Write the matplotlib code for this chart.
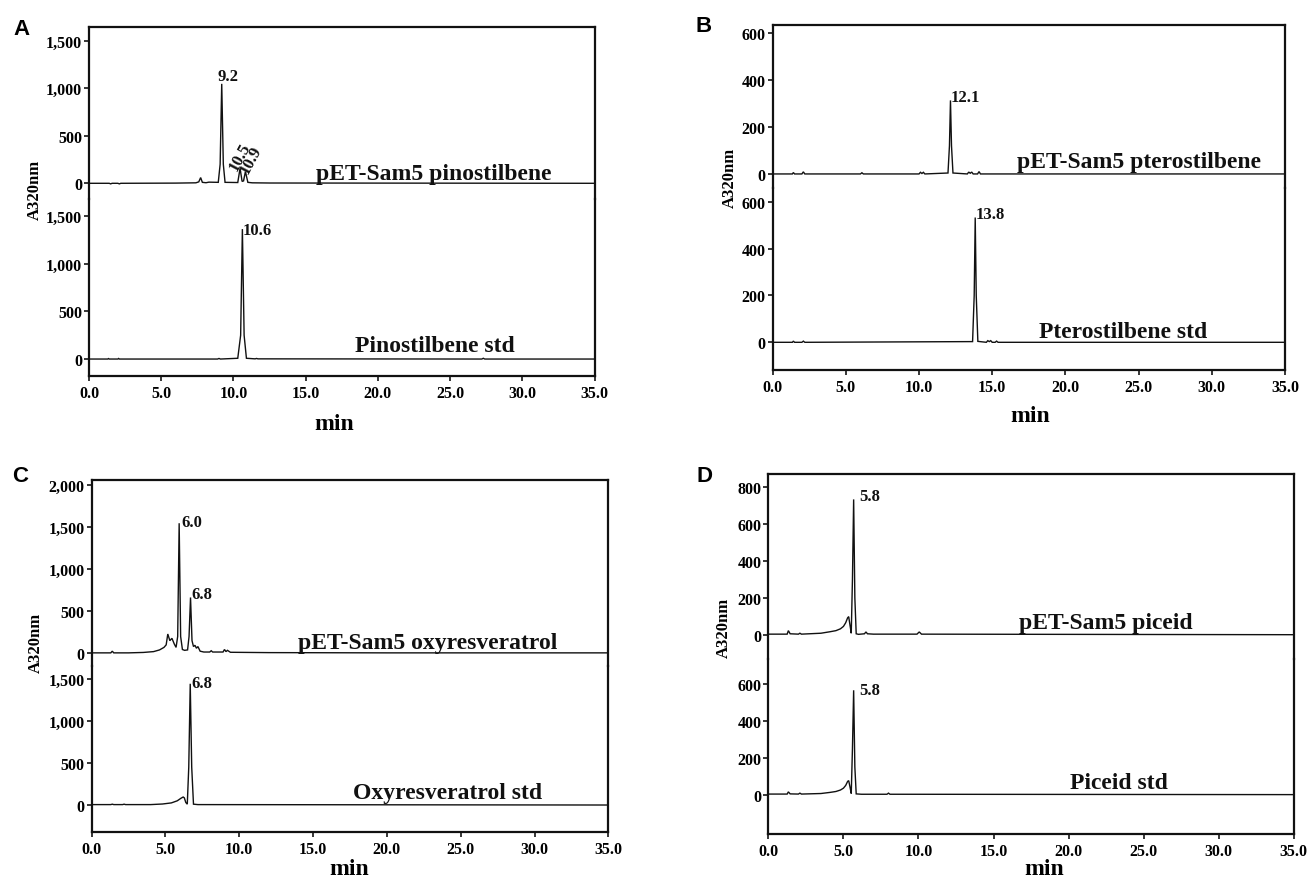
import matplotlib
matplotlib.use("Agg")
import matplotlib.pyplot as plt
from matplotlib.ticker import FixedLocator, FuncFormatter

plt.rcParams['font.family'] = ['Liberation Serif', 'DejaVu Serif']
plt.rcParams['font.weight'] = 'bold'

# ---------------- data (retention time in min, absorbance A320nm) ----------------
A_top_time = [0.0, 1.4, 1.5, 1.6, 2.0, 2.1, 2.2, 6.0, 7.4, 7.6, 7.73, 7.85, 8.1, 8.3, 8.95,
              9.08, 9.19, 9.3, 9.42, 10.3, 10.46, 10.6, 10.7, 10.83, 11.0, 11.3, 12.5, 35.0]
A_top_abs = [0, 0, -6, 0, 0, -6, 0, 2, 5, 15, 60, 10, 6, 12, 10,
             200, 1045, 200, 10, 8, 158, 20, 25, 123, 10, 5, 3, 0]
A_bot_time = [0.0, 1.3, 1.35, 1.4, 2.0, 2.05, 2.1, 8.9, 9.0, 9.1, 10.3, 10.5, 10.62, 10.74,
              10.9, 11.5, 11.6, 11.7, 27.2, 27.3, 27.4, 35.0]
A_bot_abs = [0, 0, 5, 0, 0, 6, 0, 0, 6, 0, 8, 250, 1365, 250, 8, 2, 6, 2, 0, 8, 0, 0]

B_top_time = [0.0, 1.35, 1.42, 1.5, 2.0, 2.1, 2.2, 6.0, 6.1, 6.2, 10.0, 10.1, 10.2, 10.3, 10.4,
              11.98, 12.08, 12.15, 12.22, 12.32, 13.3, 13.4, 13.5, 13.6, 13.7, 14.0, 14.1, 14.2, 35.0]
B_top_abs = [0, 0, 6, 0, 0, 9, 0, 0, 5, 0, 0, 7, 2, 7, 0,
             4, 120, 314, 120, 4, 0, 8, 3, 8, 0, 0, 10, 0, 0]
B_bot_time = [0.0, 1.35, 1.42, 1.5, 2.0, 2.1, 2.2, 13.66, 13.77, 13.84, 13.91, 14.02, 14.6, 14.7,
              14.8, 14.9, 15.0, 15.2, 15.3, 15.4, 35.0]
B_bot_abs = [0, 0, 5, 0, 0, 5, 0, 3, 200, 533, 200, 4, 0, 7, 3, 7, 0, 0, 5, 0, 0]

C_top_time = [0.0, 1.3, 1.4, 1.5, 2.5, 3.5, 4.2, 4.6, 4.9, 5.05, 5.16, 5.3, 5.44, 5.6, 5.72,
              5.83, 5.93, 6.03, 6.15, 6.3, 6.5, 6.6, 6.7, 6.8, 6.9, 7.0, 7.1, 7.2, 7.35, 7.6,
              8.0, 8.1, 8.2, 8.9, 9.0, 9.1, 9.2, 9.4, 12.0, 20.0, 35.0]
C_top_abs = [5, 5, 25, 5, 5, 10, 20, 40, 70, 100, 229, 150, 178, 110, 70,
             200, 1545, 200, 45, 35, 40, 200, 663, 150, 80, 95, 60, 80, 25, 15,
             15, 30, 15, 15, 45, 20, 35, 12, 8, 5, 5]
C_bot_time = [0.0, 1.3, 1.4, 1.5, 2.1, 2.2, 2.3, 4.0, 4.8, 5.4, 5.8, 6.05, 6.2, 6.28, 6.38,
              6.48, 6.58, 6.68, 6.78, 6.9, 7.2, 35.0]
C_bot_abs = [5, 5, 10, 5, 5, 10, 5, 5, 12, 25, 50, 80, 95, 85, 30,
             10, 450, 1440, 450, 10, 5, 0]

D_top_time = [0.0, 1.25, 1.33, 1.45, 2.0, 2.1, 2.2, 3.5, 4.1, 4.5, 4.8, 5.0, 5.15, 5.28, 5.35,
              5.44, 5.52, 5.6, 5.68, 5.76, 5.85, 6.0, 6.4, 6.5, 6.6, 7.0, 9.9, 10.05, 10.2, 35.0]
D_top_abs = [3, 3, 22, 5, 3, 8, 3, 8, 16, 22, 32, 45, 65, 92, 98,
             50, 8, 300, 735, 200, 5, 2, 5, 15, 5, 3, 3, 15, 3, 0]
D_bot_time = [0.0, 1.25, 1.33, 1.45, 2.0, 2.1, 2.2, 3.5, 4.1, 4.5, 4.8, 5.0, 5.15, 5.28, 5.35,
              5.44, 5.52, 5.6, 5.68, 5.76, 5.85, 6.2, 7.9, 8.0, 8.1, 35.0]
D_bot_abs = [3, 3, 15, 4, 3, 8, 3, 6, 12, 17, 25, 35, 50, 72, 76,
             40, 6, 250, 567, 150, 4, 2, 2, 8, 2, 0]

x_ticks = [0, 5, 10, 15, 20, 25, 30, 35]
A_top_ticks = [0, 500, 1000, 1500]
A_bot_ticks = [0, 500, 1000, 1500]
B_top_ticks = [0, 200, 400, 600]
B_bot_ticks = [0, 200, 400, 600]
C_top_ticks = [0, 500, 1000, 1500, 2000]
C_bot_ticks = [0, 500, 1000, 1500]
D_top_ticks = [0, 200, 400, 600, 800]
D_bot_ticks = [0, 200, 400, 600]

A_names = ["pET-Sam5 pinostilbene", "Pinostilbene std"]
B_names = ["pET-Sam5 pterostilbene", "Pterostilbene std"]
C_names = ["pET-Sam5 oxyresveratrol", "Oxyresveratrol std"]
D_names = ["pET-Sam5 piceid", "Piceid std"]

# peak labels: (text, time, absorbance, trace, rotation)
A_peaks = [("9.2", 8.9, 1090, 0, 0), ("10.5", 10.25, 125, 0, 62), ("10.9", 11.0, 95, 0, 62),
           ("10.6", 10.65, 1313, 1, 0)]
B_peaks = [("12.1", 12.15, 313, 0, 0), ("13.8", 13.84, 530, 1, 0)]
C_peaks = [("6.0", 6.05, 1508, 0, 0), ("6.8", 6.75, 653, 0, 0), ("6.8", 6.76, 1398, 1, 0)]
D_peaks = [("5.8", 6.03, 734, 0, 0), ("5.8", 6.03, 547, 1, 0)]

# ---------------- layout ----------------
W, H = 1310, 878
fig = plt.figure(figsize=(W / 100, H / 100), dpi=100)

panels = [
    dict(letter="A", letter_xy=(13, 35), box=(89, 594.5, 28.3, 376.7), split=200,
         ylims=[(-165, 1639), (-175, 1681)], ticks=[A_top_ticks, A_bot_ticks],
         traces=[(A_top_time, A_top_abs), (A_bot_time, A_bot_abs)], names=A_names,
         name_pos=[(15.7, 42), (18.4, 84)], peaks=A_peaks,
         ylab=(35, 190), xlab=(334, 430)),
    dict(letter="B", letter_xy=(695, 32), box=(772.6, 1285, 26, 370.7), split=189,
         ylims=[(-60, 636), (-117, 659)], ticks=[B_top_ticks, B_bot_ticks],
         traces=[(B_top_time, B_top_abs), (B_bot_time, B_bot_abs)], names=B_names,
         name_pos=[(16.7, 30), (18.2, 21)], peaks=B_peaks,
         ylab=(730, 178), xlab=(1030, 421.7)),
    dict(letter="C", letter_xy=(12.6, 481.7), box=(91.6, 608.4, 480.7, 833.3), split=667,
         ylims=[(-151, 2062), (-324, 1651)], ticks=[C_top_ticks, C_bot_ticks],
         traces=[(C_top_time, C_top_abs), (C_bot_time, C_bot_abs)], names=C_names,
         name_pos=[(14.0, 59), (17.7, 83)], peaks=C_peaks,
         ylab=(36, 642.5), xlab=(348.7, 875)),
    dict(letter="D", letter_xy=(696, 481.7), box=(768.4, 1293.7, 475, 835), split=660,
         ylims=[(-132, 873), (-214, 737)], ticks=[D_top_ticks, D_bot_ticks],
         traces=[(D_top_time, D_top_abs), (D_bot_time, D_bot_abs)], names=D_names,
         name_pos=[(16.7, 38), (20.1, 38)], peaks=D_peaks,
         ylab=(723.5, 627.5), xlab=(1043.7, 875)),
]

SPINE_W = 1.6
TICK_FS = 11.5
comma = FuncFormatter(lambda v, p: "{:,}".format(int(round(v))))


def px_axes(left, right, top, bottom):
    return fig.add_axes([left / W, 1 - bottom / H, (right - left) / W, (bottom - top) / H])


for p in panels:
    l, r, t, b = p["box"]
    s = p["split"]
    ax_up = px_axes(l, r, t, s)
    ax_lo = px_axes(l, r, s, b)
    axes = [ax_up, ax_lo]
    for i, ax in enumerate(axes):
        tt, aa = p["traces"][i]
        ax.plot(tt, aa, color="#111111", lw=1.0, solid_joinstyle="miter")
        ax.set_xlim(0, 35)
        ax.set_ylim(*p["ylims"][i])
        ax.yaxis.set_major_locator(FixedLocator(p["ticks"][i]))
        ax.yaxis.set_major_formatter(comma)
        ax.set_facecolor("none")
        for sp in ax.spines.values():
            sp.set_linewidth(SPINE_W)
            sp.set_color("#111111")
        ax.tick_params(axis="y", direction="out", length=3.5, width=1.1, pad=1.5,
                       labelsize=TICK_FS, left=True, right=False)
        for lab in ax.get_yticklabels():
            lab.set_fontweight("bold")
        nx, ny = p["name_pos"][i]
        ax.text(nx, ny, p["names"][i], fontsize=17, fontweight="bold",
                ha="left", va="baseline", color="#111111")
        for (txt, px_, py_, tr, rot) in p["peaks"]:
            if tr == i:
                ax.text(px_, py_, txt, fontsize=12, fontweight="bold", ha="left",
                        va="baseline", rotation=rot, rotation_mode="anchor",
                        color="#111111")
    ax_up.spines["bottom"].set_visible(False)
    ax_lo.spines["top"].set_visible(False)
    ax_up.tick_params(axis="x", bottom=False, labelbottom=False)
    ax_lo.xaxis.set_major_locator(FixedLocator(x_ticks))
    ax_lo.xaxis.set_major_formatter(FuncFormatter(lambda v, q: "%.1f" % v))
    ax_lo.tick_params(axis="x", direction="out", length=3.5, width=1.1, pad=3,
                      labelsize=TICK_FS)
    for lab in ax_lo.get_xticklabels():
        lab.set_fontweight("bold")

    # labels
    lx, ly = p["letter_xy"]
    fig.text(lx / W, 1 - ly / H, p["letter"], fontsize=16, fontweight="bold",
             family=["Liberation Sans", "DejaVu Sans"], ha="left", va="baseline")
    yx, yy = p["ylab"]
    fig.text(yx / W, 1 - yy / H, "A320nm", fontsize=12, fontweight="bold",
             rotation=90, ha="center", va="center")
    mx, my = p["xlab"]
    fig.text(mx / W, 1 - my / H, "min", fontsize=17, fontweight="bold",
             ha="center", va="baseline")

fig.savefig("out.png", dpi=100)
